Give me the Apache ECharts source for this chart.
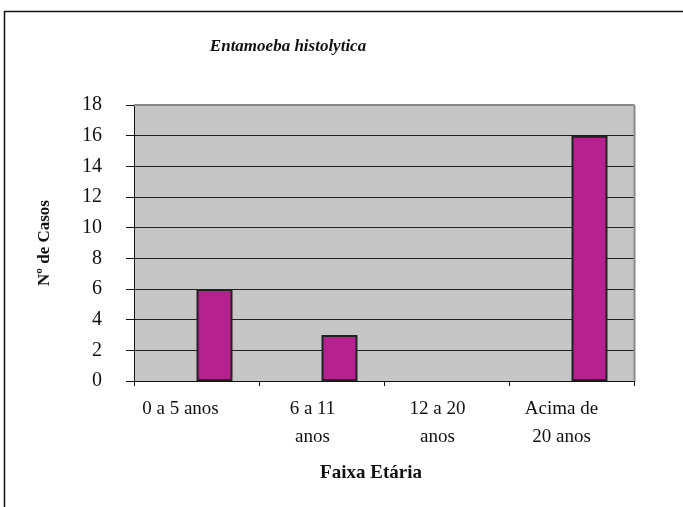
<!DOCTYPE html>
<html>
<head>
<meta charset="utf-8">
<script src="https://cdn.jsdelivr.net/npm/echarts@6/dist/echarts.min.js"></script>
<style>
html,body{margin:0;padding:0;background:#fff;}
#c{width:683px;height:507px;}
</style>
</head>
<body>
<div id="c"></div>
<script>
var categories = ["0 a 5 anos", "6 a 11\nanos", "12 a 20\nanos", "Acima de\n20 anos"];
var emptySeries = [null, null, null, null];
var casos = [6, 3, 0, 16];
var yTicks = [0, 18, 2];

// horizontal nudge of each category label (px), as in the original layout
var labelShift = [-16, -9, -9, -10];

var font = "'Liberation Serif', 'Times New Roman', serif";
var xData = categories.map(function (c, i) {
  var s = labelShift[i];
  return {value: c, textStyle: {padding: s < 0 ? [0, -2 * s, 0, 0] : [0, 0, 0, 2 * s]}};
});
var chart = echarts.init(document.getElementById('c'), null, {renderer: 'canvas'});
chart.setOption({
  animation: false,
  backgroundColor: '#ffffff',
  title: {
    text: 'Entamoeba histolytica',
    left: 283, top: 33, textAlign: 'center',
    textStyle: {fontFamily: font, fontSize: 17, fontWeight: 'bold', fontStyle: 'italic', color: '#111'}
  },
  graphic: [
    {type: 'line', shape: {x1: 4.5, y1: 11, x2: 4.5, y2: 507}, style: {stroke: '#111', lineWidth: 1.5}, z: 10},
    {type: 'line', shape: {x1: 4, y1: 11.5, x2: 683, y2: 11.5}, style: {stroke: '#111', lineWidth: 1.5}, z: 10},
    {type: 'line', shape: {x1: 134, y1: 105, x2: 634.5, y2: 105}, style: {stroke: '#8a8a8a', lineWidth: 2}, z: 10},
    {type: 'line', shape: {x1: 634.5, y1: 105, x2: 634.5, y2: 381}, style: {stroke: '#8a8a8a', lineWidth: 2}, z: 10}
  ],
  grid: {left: 134, right: 49, top: 105, bottom: 126, show: true, backgroundColor: '#c6c6c6', borderWidth: 0},
  xAxis: {
    type: 'category',
    data: xData,
    name: 'Faixa Etária',
    nameLocation: 'middle',
    nameGap: 83,
    nameMoveOverlap: false,
    nameTextStyle: {fontFamily: font, fontSize: 19, fontWeight: 'bold', color: '#111', padding: [0, 26, 0, 0]},
    axisLine: {lineStyle: {color: '#111', width: 1}},
    axisTick: {show: true, length: 5, lineStyle: {color: '#111'}},
    axisLabel: {fontFamily: font, fontSize: 19, color: '#111', margin: 14, lineHeight: 28, interval: 0},
    splitLine: {show: false}
  },
  yAxis: {
    type: 'value',
    min: yTicks[0], max: yTicks[1], interval: yTicks[2],
    name: 'Nº de Casos',
    nameLocation: 'middle',
    nameGap: 81,
    nameRotate: 90,
    nameMoveOverlap: false,
    nameTextStyle: {fontFamily: font, fontSize: 17, fontWeight: 'bold', color: '#111'},
    axisLine: {show: true, lineStyle: {color: '#111', width: 1}},
    axisTick: {show: true, length: 8, lineStyle: {color: '#111'}},
    axisLabel: {fontFamily: font, fontSize: 20, color: '#111', margin: 32},
    splitLine: {show: true, lineStyle: {color: '#222', width: 1}}
  },
  series: [
    {type: 'bar', data: emptySeries, barWidth: 36, barGap: '0%', itemStyle: {color: '#ffffff'}},
    {type: 'bar', data: casos.map(function (v) { return v === 0 ? null : v; }), barWidth: 36, barGap: '0%',
     itemStyle: {color: '#b5218f', borderColor: '#222', borderWidth: 2}}
  ]
});
</script>
</body>
</html>
